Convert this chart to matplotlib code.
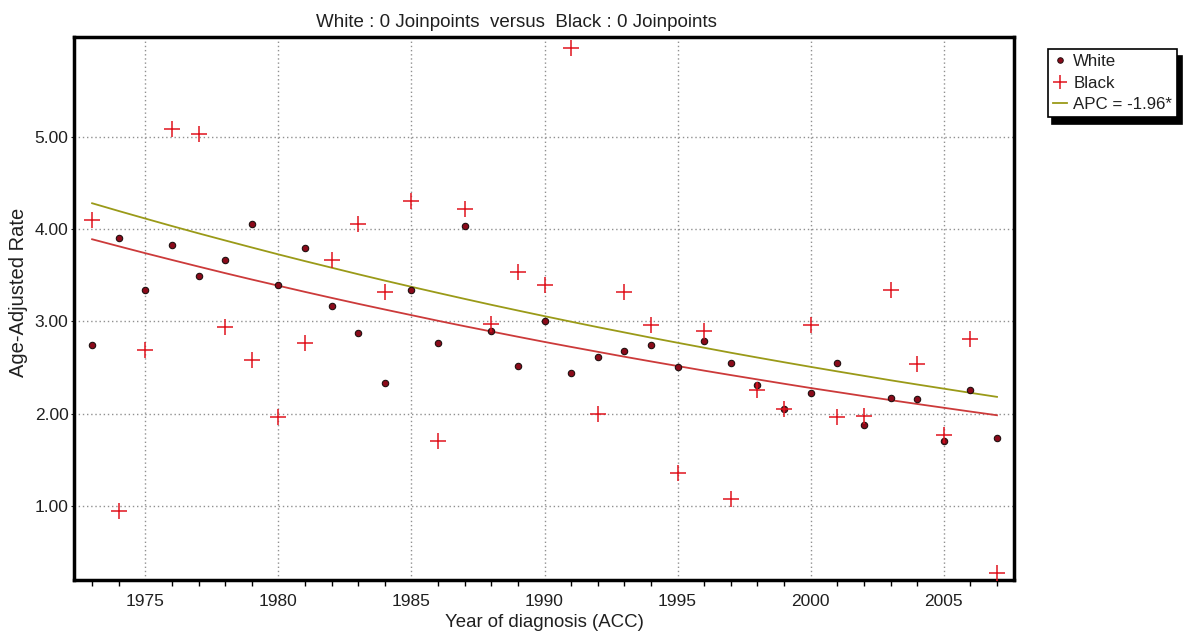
import matplotlib
matplotlib.use("Agg")
import matplotlib.pyplot as plt
from matplotlib.lines import Line2D
from matplotlib.ticker import MultipleLocator, FormatStrFormatter, FixedLocator

plt.rcParams['font.family'] = ['Liberation Sans', 'DejaVu Sans']

years = list(range(1973, 2008))
white = [2.74, 3.90, 3.34, 3.83, 3.49, 3.67, 4.05, 3.39, 3.79, 3.17,
         2.88, 2.33, 3.34, 2.77, 4.03, 2.90, 2.52, 3.01, 2.44, 2.61,
         2.68, 2.75, 2.51, 2.79, 2.55, 2.31, 2.05, 2.23, 2.55, 1.88,
         2.17, 2.16, 1.71, 2.26, 1.74]
black = [4.10, 0.95, 2.69, 5.08, 5.03, 2.94, 2.58, 1.96, 2.77, 3.66,
         4.06, 3.32, 4.30, 1.70, 4.22, 2.97, 3.53, 3.39, 5.96, 2.00,
         3.32, 2.96, 1.36, 2.90, 1.08, 2.26, 2.05, 2.96, 1.96, 1.98,
         3.34, 2.54, 1.77, 2.81, 0.28]
fit_upper = [4.280, 4.196, 4.114, 4.033, 3.954, 3.877, 3.801, 3.726, 3.653, 3.582,
             3.511, 3.442, 3.375, 3.309, 3.244, 3.180, 3.118, 3.057, 2.997, 2.938,
             2.881, 2.824, 2.769, 2.715, 2.661, 2.609, 2.558, 2.508, 2.459, 2.411,
             2.363, 2.317, 2.272, 2.227, 2.183]
fit_lower = [3.890, 3.814, 3.739, 3.666, 3.594, 3.523, 3.454, 3.387, 3.320, 3.255,
             3.191, 3.129, 3.068, 3.007, 2.948, 2.891, 2.834, 2.778, 2.724, 2.671,
             2.618, 2.567, 2.517, 2.467, 2.419, 2.372, 2.325, 2.279, 2.235, 2.191,
             2.148, 2.106, 2.065, 2.024, 1.984]
y_ticks = [1.0, 2.0, 3.0, 4.0, 5.0]
title = "White : 0 Joinpoints  versus  Black : 0 Joinpoints"
legend_labels = ["White", "Black", "APC = -1.96*"]

WHITE_FC = '#8b0a1a'
BLACK_C = '#e0141e'
FIT_C = '#9a9a18'
FIT2_C = '#cc3a3a'
TXT = '#202020'

fig = plt.figure(figsize=(11.86, 6.34), dpi=100)
ax = fig.add_axes([0.0624, 0.0852, 0.7926, 0.8564])

ax.plot(years, fit_lower, color=FIT2_C, lw=1.3, zorder=2)
ax.plot(years, fit_upper, color=FIT_C, lw=1.3, zorder=2)
ax.plot(years, white, ls='none', marker='o', ms=4.6,
        mfc=WHITE_FC, mec='#201010', mew=0.8, zorder=3)
ax.plot(years, black, ls='none', marker='+', ms=11,
        mew=1.1, color=BLACK_C, zorder=4)

ax.set_xlim(1972.32, 2007.64)
ax.set_ylim(0.2, 6.08)
ax.xaxis.set_major_locator(MultipleLocator(5))
ax.xaxis.set_minor_locator(MultipleLocator(1))
ax.yaxis.set_major_locator(FixedLocator(y_ticks))
ax.yaxis.set_major_formatter(FormatStrFormatter('%.2f'))
ax.grid(True, which='major', ls=(0, (1, 2)), color='#909090', lw=1)
ax.tick_params(axis='x', which='major', length=0, labelsize=12.5, pad=10, colors=TXT)
ax.tick_params(axis='x', which='minor', length=4, width=1, direction='out')
ax.tick_params(axis='y', which='major', length=2, labelsize=12.5, pad=2, colors=TXT)
for s in ax.spines.values():
    s.set_linewidth(2.5)
    s.set_color('black')

ax.set_xlabel("Year of diagnosis (ACC)", fontsize=13.4, labelpad=4, color=TXT)
ax.set_ylabel("Age-Adjusted Rate", fontsize=14.5, color=TXT)
ax.yaxis.set_label_coords(-0.049, 0.53)
ax.text(0.471, 1.012, title, transform=ax.transAxes, ha='center', va='bottom',
        fontsize=13.5, color=TXT)

handles = [
    Line2D([], [], ls='none', marker='o', ms=4, mfc=WHITE_FC, mec='#201010', mew=0.7),
    Line2D([], [], ls='none', marker='+', ms=10, mew=1.1, color=BLACK_C),
    Line2D([], [], color=FIT_C, lw=1.3),
]
leg = fig.legend(handles, legend_labels,
                 loc='upper left', bbox_to_anchor=(1048 / 1186, 1 - 49 / 634),
                 fancybox=False, edgecolor='black', framealpha=1,
                 shadow={'color': 'black', 'alpha': 1.0, 'ox': 3, 'oy': -5},
                 fontsize=12.2, handlelength=0.85, handletextpad=0.35,
                 borderpad=0.3, labelspacing=0.38, borderaxespad=0)
for t in leg.get_texts():
    t.set_color(TXT)
leg.get_frame().set_linewidth(1.2)

fig.savefig("out.png", dpi=100)
